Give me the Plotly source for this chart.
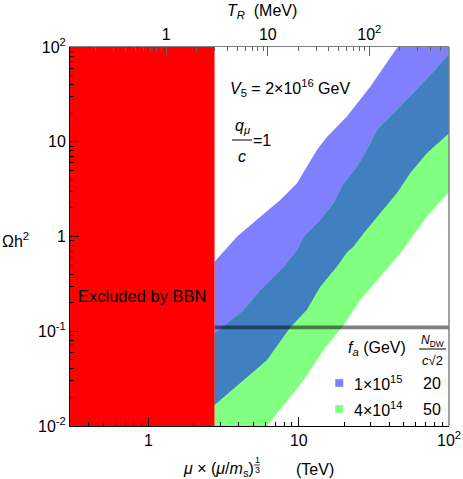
import numpy as np
import plotly.graph_objects as go

# ---------------- data ----------------
X_RANGE = [0.3, 100.0]          # mu x (mu/m_s)^(1/3)  [TeV]
Y_RANGE = [0.01, 100.0]         # Omega h^2
T_RANGE = [0.1127, 609.5]       # T_R [MeV] on top axis
BBN_LIMIT = 2.75                # TeV, excluded by BBN to the left
OMEGA_DM = 0.11                 # horizontal DM line

# band f_a = 1e15 GeV  (blue)
blue_upper_x = [2.75, 3.89, 5.55, 7.53, 9.73, 11.3, 13.2, 15.4, 20.9, 29.9, 44.9, 100.0]
blue_upper_y = [0.542, 1.0, 1.62, 2.43, 3.64, 5.46, 8.18, 11.2, 18.5, 38.1, 96.8, 500.0]
blue_lower_x = [2.75, 4.30, 6.15, 8.78, 11.3, 13.9, 17.9, 20.9, 23.1, 27.0, 33.1, 44.9, 55.1, 71.1, 100.0]
blue_lower_y = [0.0167, 0.0305, 0.0498, 0.110, 0.1675, 0.295, 0.480, 0.676, 0.780, 1.08, 1.62, 2.86, 4.65, 7.55, 12.3]

# band f_a = 4e14 GeV  (green)
green_upper_x = [2.75, 4.30, 5.55, 7.93, 9.73, 10.8, 13.9, 17.0, 19.9, 24.4, 28.4, 33.1, 47.2, 78.7, 100.0]
green_upper_y = [0.095, 0.1675, 0.272, 0.480, 0.721, 1.0, 1.49, 2.24, 3.64, 5.46, 8.18, 13.3, 23.4, 54.8, 85.0]
green_lower_x = [2.75, 6.47, 8.78, 10.8, 14.6, 19.9, 25.6, 34.8, 47.2, 55.1, 71.1, 100.0]
green_lower_y = [0.00178, 0.0111, 0.0204, 0.0305, 0.0634, 0.116, 0.214, 0.377, 0.661, 0.918, 1.62, 2.97]

# ticks
x_ticks = [1, 10, 100]
x_ticktext = ["1", "10", "10<sup>2</sup>"]
y_ticks = [0.01, 0.1, 1, 10, 100]
y_ticktext = ["10<sup>-2</sup>", "10<sup>-1</sup>", "1", "10", "10<sup>2</sup>"]
t_ticks = [1, 10, 100]
t_ticktext = ["1", "10", "10<sup>2</sup>"]

legend_fa = ["1×10<sup>15</sup>", "4×10<sup>14</sup>"]
legend_ndw = ["20", "50"]

BLUE = "rgb(128,128,255)"
GREEN = "rgb(128,255,128)"
OVERLAP = "rgb(64,128,192)"
RED = "rgb(255,0,0)"
FONT = "Liberation Sans, Arial, sans-serif"


def minor_vals(lo, hi):
    out = []
    for d in range(int(np.floor(np.log10(lo))), int(np.ceil(np.log10(hi))) + 1):
        for m in range(2, 10):
            v = m * 10.0 ** d
            if lo <= v <= hi:
                out.append(v)
    return out


def band(xu, yu, xl, yl):
    return list(xu) + list(xl[::-1]), list(yu) + list(yl[::-1])


fig = go.Figure()

bx, by = band(blue_upper_x, blue_upper_y, blue_lower_x, blue_lower_y)
fig.add_trace(go.Scatter(x=bx, y=by, fill="toself", fillcolor=BLUE, mode="lines",
                         line=dict(width=0, color=BLUE), hoverinfo="skip"))
gx, gy = band(green_upper_x, green_upper_y, green_lower_x, green_lower_y)
fig.add_trace(go.Scatter(x=gx, y=gy, fill="toself", fillcolor=GREEN, mode="lines",
                         line=dict(width=0, color=GREEN), hoverinfo="skip"))
ox, oy = band(green_upper_x, green_upper_y, blue_lower_x, blue_lower_y)
fig.add_trace(go.Scatter(x=ox, y=oy, fill="toself", fillcolor=OVERLAP, mode="lines",
                         line=dict(width=0, color=OVERLAP), hoverinfo="skip"))

# DM relic line
fig.add_trace(go.Scatter(x=[BBN_LIMIT, X_RANGE[1]], y=[OMEGA_DM, OMEGA_DM], mode="lines",
                         line=dict(color="rgba(0,0,0,0.5)", width=3.7), hoverinfo="skip"))

# BBN excluded region
fig.add_trace(go.Scatter(x=[X_RANGE[0], BBN_LIMIT, BBN_LIMIT, X_RANGE[0], X_RANGE[0]],
                         y=[Y_RANGE[0], Y_RANGE[0], Y_RANGE[1], Y_RANGE[1], Y_RANGE[0]],
                         fill="toself", fillcolor=RED, mode="lines",
                         line=dict(width=0, color=RED), hoverinfo="skip"))

# invisible traces that activate the secondary (tick) axes
for xa, ya in [("x2", "y"), ("x3", "y"), ("x4", "y"), ("x", "y2")]:
    fig.add_trace(go.Scatter(x=[t_ticks[1]], y=[OMEGA_DM], xaxis=xa, yaxis=ya, mode="markers",
                             marker=dict(opacity=0, size=1), hoverinfo="skip"))

common = dict(type="log", showgrid=False, zeroline=False, tickmode="array", automargin=False)
xr = [np.log10(X_RANGE[0]), np.log10(X_RANGE[1])]
yr = [np.log10(Y_RANGE[0]), np.log10(Y_RANGE[1])]
tr = [np.log10(T_RANGE[0]), np.log10(T_RANGE[1])]
GRAY = "rgb(128,128,128)"
TGRAY = "rgb(100,100,100)"

fig.update_layout(
    template="none",
    width=463, height=479, autosize=False,
    margin=dict(l=70, r=14, t=47, b=53, pad=0),
    plot_bgcolor="white", paper_bgcolor="white",
    showlegend=False,
    font=dict(family=FONT, size=16, color="black"),
    xaxis=dict(**common, range=xr, tickvals=x_ticks, ticktext=x_ticktext,
               ticks="inside", ticklen=9, tickcolor="black", tickwidth=1,
               showline=True, linecolor="black", linewidth=1, mirror=False,
               tickfont=dict(size=16, family=FONT)),
    xaxis3=dict(**common, range=xr, overlaying="x", anchor="y", side="bottom",
                tickvals=minor_vals(*X_RANGE), ticks="inside", ticklen=4,
                tickcolor="black", showticklabels=False, showline=False),
    xaxis2=dict(**common, range=tr, overlaying="x", side="top", anchor="y",
                tickvals=t_ticks, ticktext=t_ticktext,
                ticks="inside", ticklen=9, tickcolor=TGRAY, tickwidth=1,
                showline=True, linecolor=GRAY, linewidth=1,
                tickfont=dict(size=16, family=FONT)),
    xaxis4=dict(**common, range=tr, overlaying="x", side="top", anchor="y",
                tickvals=minor_vals(*T_RANGE), ticks="inside", ticklen=4,
                tickcolor=TGRAY, showticklabels=False, showline=False),
    yaxis=dict(**common, range=yr, tickvals=y_ticks, ticktext=y_ticktext,
               ticks="inside", ticklen=9, tickcolor="black", tickwidth=1,
               showline=True, linecolor="black", linewidth=1, mirror=False,
               tickfont=dict(size=16, family=FONT)),
    yaxis2=dict(**common, range=yr, overlaying="y", anchor="x", side="left",
                tickvals=minor_vals(*Y_RANGE), ticks="inside", ticklen=4,
                tickcolor="black", showticklabels=False, showline=False),
)

# --------- decorations positioned in page pixels -> paper coords ---------
L, R, T, B = 70, 449, 47, 426


def px(x):
    return (x - L) / (R - L)


def py(y):
    return (B - y) / (B - T)


def note(x, y, text, size=16, xanchor="center", yanchor="middle"):
    fig.add_annotation(x=px(x), y=py(y), xref="paper", yref="paper", text=text,
                       showarrow=False, xanchor=xanchor, yanchor=yanchor,
                       font=dict(family=FONT, size=size, color="black"))


def hline(x0, x1, y, color="black", width=1):
    fig.add_shape(type="line", xref="paper", yref="paper", x0=px(x0), x1=px(x1),
                  y0=py(y), y1=py(y), line=dict(color=color, width=width))


# right frame edge
fig.add_shape(type="line", xref="paper", yref="paper", x0=1, x1=1, y0=0, y1=1,
              line=dict(color=GRAY, width=1.5))

# axis titles
note(262, 12, "<i>T</i><sub><i>R</i></sub>\u00a0\u00a0(MeV)", size=16)
note(16, 240, "Ωh<sup>2</sup>", size=16)
note(218, 469, "<i>μ</i> × (<i>μ</i>/<i>m</i><sub>s</sub>)", size=16)
note(257, 460, "1", size=9)
note(257, 470, "3", size=9)
hline(254, 260, 465, width=0.8)
note(315, 469, "(TeV)", size=16)

# in-plot texts
note(142, 296, "Excluded by BBN", size=16.5)
note(228, 88, "<i>V</i><sub>5</sub> = 2×10<sup>16</sup> GeV", size=16, xanchor="left")
note(242, 127, "<i>q</i><sub><i>μ</i></sub>", size=16)
hline(232, 252, 140, width=1)
note(242, 156, "<i>c</i>", size=16)
note(262, 140, "=1", size=16)

# legend block
note(377, 348, "<i>f</i><sub><i>a</i></sub> (GeV)", size=16)
note(432, 341, "<i>N</i><sub>DW</sub>", size=12)
hline(419, 446, 349, width=1)
note(432, 360, "<i>c</i>√2", size=13)
for i, (fa, nd, col) in enumerate(zip(legend_fa, legend_ndw, [BLUE, GREEN])):
    yy = 383 + 26 * i
    fig.add_shape(type="rect", xref="paper", yref="paper",
                  x0=px(335.5), x1=px(343), y0=py(yy + 3.7), y1=py(yy - 3.7),
                  fillcolor=col, line=dict(color=col, width=0.5))
    note(352, yy, fa, size=16, xanchor="left")
    note(432, yy, nd, size=16)

# remove the default 8px page margin so the 463x479 figure fills the window exactly
fig.write_html("out.html",
               config=dict(displayModeBar=False, responsive=False, staticPlot=True),
               post_script="document.body.style.margin='0';document.body.style.overflow='hidden';")
